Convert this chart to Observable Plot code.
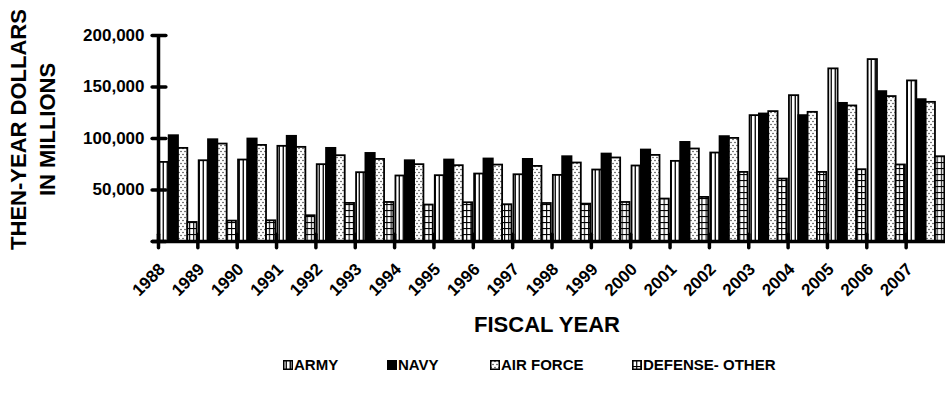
<!DOCTYPE html>
<html><head><meta charset="utf-8">
<script src="https://cdn.jsdelivr.net/npm/d3@7"></script>
<script src="https://cdn.jsdelivr.net/npm/@observablehq/plot@0.6"></script>
<style>
html,body{margin:0;padding:0;background:#fff;}
body{width:945px;height:402px;overflow:hidden;font-family:"Liberation Sans",Arial,sans-serif;}
#legend{position:relative;height:40px;margin-top:11px;}
.item{position:absolute;top:0;display:flex;align-items:center;font-weight:bold;font-size:15px;color:#000;line-height:18px;}
.item svg{margin-right:1px;}
</style></head><body>
<div id="chart"></div>
<div id="legend"></div>
<script>
const years = [1988,1989,1990,1991,1992,1993,1994,1995,1996,1997,1998,1999,2000,2001,2002,2003,2004,2005,2006,2007];
const seriesNames = ["ARMY","NAVY","AIR FORCE","DEFENSE- OTHER"];
const army = [76800,78400,79100,92400,74600,66800,63600,63900,65500,64800,64200,69400,73300,77800,85900,122200,141600,167600,176600,155900];
const navy = [102700,98800,99500,102100,90400,85500,78400,79100,80100,79700,82300,84900,88800,96200,101800,123800,122200,134100,145500,137700];
const airForce = [90400,94600,93300,91400,83300,79700,74600,73600,74200,72900,76200,81100,83600,89800,100100,126100,125400,131600,140700,135100];
const defenseOther = [18500,19800,20100,25000,37000,37900,35400,37600,35700,36900,36300,37900,41200,42800,67100,60600,67100,69700,74300,82300];
const yTickValues = [0,50000,100000,150000,200000];
const yTickLabels = ["","50,000","100,000","150,000","200,000"];
const xTitle = "FISCAL YEAR";
const yTitle = "THEN-YEAR DOLLARS\nIN MILLIONS";

const seriesValues = [army, navy, airForce, defenseOther];
const fills = ["url(#pArmy)", "#000", "url(#pAF)", "url(#pDef)"];

// build table
const rows = [];
years.forEach((yr, i) => seriesNames.forEach((s, k) => rows.push({year: yr, series: s, k, value: seriesValues[k][i]})));

const groupPad = 0.034;   // fraction of a year slot before the first bar
const barW = 0.237;       // fraction of a year slot per bar
const x0 = years[0] - 0.5;
const boundaries = years.map(y => y - 0.5);

const font = "Liberation Sans, Arial, sans-serif";

const svg = Plot.plot({
  width: 945,
  height: 345,
  marginLeft: 158,
  marginRight: 0,
  marginTop: 35,
  marginBottom: 104,
  style: {fontFamily: font, background: "white", overflow: "visible"},
  x: {domain: [x0, years[years.length - 1] + 0.5], axis: null},
  y: {domain: [0, 200000], axis: null},
  color: {domain: seriesNames, range: fills},
  marks: [
    Plot.rectY(rows, {
      x1: d => d.year - 0.5 + groupPad + d.k * barW,
      x2: d => d.year - 0.5 + groupPad + (d.k + 1) * barW,
      y: "value",
      fill: "series",
      stroke: "#000",
      strokeWidth: 1.8
    }),
    // x axis line
    Plot.ruleY([0], {x1: x0 - 0.15, x2: years[years.length - 1] + 0.5, stroke: "#000", strokeWidth: 3.5}),
    // y axis line
    Plot.ruleX([x0], {y1: 0, y2: 200000, stroke: "#000", strokeWidth: 3.5}),
    // y ticks (crossing the axis)
    Plot.ruleY(yTickValues, {x1: x0 - 0.15, x2: x0 + 0.2, stroke: "#000", strokeWidth: 3.5, strokeLinecap: "round"}),
    // x ticks (at group boundaries)
    Plot.ruleX(boundaries, {y1: -6500, y2: 6500, stroke: "#000", strokeWidth: 3.5, strokeLinecap: "round"}),
    // y tick labels
    Plot.text(yTickValues, {x: x0, y: d => d, text: (d, i) => yTickLabels[i], textAnchor: "end", dx: -14, fontSize: 17, fontWeight: "bold", fill: "#000"}),
    // x tick labels
    Plot.text(years, {x: d => d, y: 0, text: d => String(d), rotate: -45, textAnchor: "end", dx: -16, dy: 25, fontSize: 17, fontWeight: "bold", fill: "#000"}),
    // x title
    Plot.text([xTitle], {frameAnchor: "bottom", text: d => d, dy: 90, dx: -5, fontSize: 22, fontWeight: "bold", fill: "#000"}),
    // y title
    Plot.text([yTitle], {frameAnchor: "left", text: d => d, rotate: -90, textAnchor: "middle", dx: -127, dy: -9, lineHeight: 1.3, fontSize: 22, fontWeight: "bold", fill: "#000"})
  ]
});

function addPatterns(sel) {
  const defs = sel.insert("defs", ":first-child");
  const a = defs.append("pattern").attr("id", "pArmy").attr("patternUnits", "userSpaceOnUse").attr("width", 4).attr("height", 4);
  a.append("rect").attr("width", 4).attr("height", 4).attr("fill", "#fff");
  a.append("rect").attr("x", 2.6).attr("width", 1.3).attr("height", 4).attr("fill", "#000");
  const f = defs.append("pattern").attr("id", "pAF").attr("patternUnits", "userSpaceOnUse").attr("width", 4).attr("height", 6);
  f.append("rect").attr("width", 4).attr("height", 6).attr("fill", "#fff");
  f.append("circle").attr("cx", 1).attr("cy", 1.5).attr("r", 0.75).attr("fill", "#333");
  f.append("circle").attr("cx", 3).attr("cy", 4.5).attr("r", 0.75).attr("fill", "#333");
  const g = defs.append("pattern").attr("id", "pDef").attr("patternUnits", "userSpaceOnUse").attr("width", 4.2).attr("height", 6);
  g.append("rect").attr("width", 4.2).attr("height", 6).attr("fill", "#fff");
  g.append("rect").attr("x", 0).attr("width", 1.1).attr("height", 6).attr("fill", "#000");
  g.append("rect").attr("y", 0).attr("width", 4.2).attr("height", 1.1).attr("fill", "#000");
}
addPatterns(d3.select(svg));
document.getElementById("chart").appendChild(svg);

// legend
const legendLeft = [283, 387, 490, 632];
const legend = d3.select("#legend");
seriesNames.forEach((s, k) => {
  const item = legend.append("div").attr("class", "item").style("left", legendLeft[k] + "px");
  const sw = item.append("svg").attr("width", 10).attr("height", 10);
  addPatterns(sw);
  sw.append("rect").attr("x", 0.75).attr("y", 0.75).attr("width", 8.5).attr("height", 8.5)
    .attr("fill", fills[k]).attr("stroke", "#000").attr("stroke-width", 1.5);
  item.append("span").text(s);
});
</script>
</body></html>
